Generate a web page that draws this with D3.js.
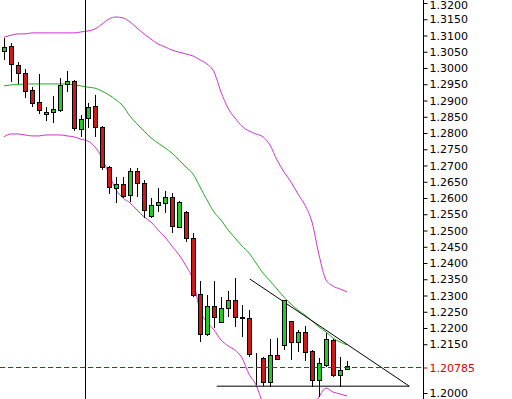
<!DOCTYPE html>
<html>
<head>
<meta charset="utf-8">
<script src="https://cdn.jsdelivr.net/npm/d3@7/dist/d3.min.js"></script>
<style>
  body { margin: 0; background: #fff; }
  .axis text { font-family: 'DejaVu Sans', sans-serif; font-size: 11px; fill: #000; }
  .axis line { stroke: #000; }
  .axis-last text { fill: #dd0000; }
  .axis-last line { stroke: #dd0000; }
</style>
</head>
<body>
<div id="chart"></div>
<script>
// OHLC per bar
const opens = [1.3052, 1.3068, 1.3009, 1.2985, 1.2932, 1.2895, 1.2858, 1.2865, 1.2871, 1.2951,
  1.2960, 1.2812, 1.2846, 1.2883, 1.2818, 1.2695, 1.2631, 1.2643, 1.2609, 1.2683,
  1.2646, 1.2545, 1.2578, 1.2585, 1.2603, 1.2511, 1.2557, 1.2477, 1.2305, 1.2181,
  1.2268, 1.2218, 1.2261, 1.2286, 1.2234, 1.2231, 1.2110, 1.2108, 1.2034, 1.2117,
  1.2148, 1.2222, 1.2157, 1.2188, 1.2129, 1.2040, 1.2086, 1.2163, 1.2055, 1.2074];
const highs = [1.3092, 1.3077, 1.3018, 1.2997, 1.2941, 1.2982, 1.2880, 1.2914, 1.2969, 1.2991,
  1.2963, 1.2855, 1.2892, 1.2917, 1.2821, 1.2698, 1.2665, 1.2665, 1.2692, 1.2692,
  1.2655, 1.2600, 1.2631, 1.2622, 1.2615, 1.2591, 1.2560, 1.2492, 1.2345, 1.2301,
  1.2345, 1.2295, 1.2314, 1.2354, 1.2271, 1.2255, 1.2123, 1.2111, 1.2166, 1.2169,
  1.2286, 1.2222, 1.2194, 1.2206, 1.2132, 1.2108, 1.2185, 1.2166, 1.2111, 1.2098];
const lows = [1.3025, 1.2957, 1.2951, 1.2908, 1.2880, 1.2858, 1.2837, 1.2831, 1.2865, 1.2926,
  1.2806, 1.2788, 1.2815, 1.2788, 1.2686, 1.2612, 1.2585, 1.2600, 1.2588, 1.2603,
  1.2538, 1.2538, 1.2557, 1.2554, 1.2492, 1.2508, 1.2465, 1.2295, 1.2157, 1.2175,
  1.2200, 1.2215, 1.2234, 1.2203, 1.2172, 1.2111, 1.2025, 1.2022, 1.2018, 1.2102,
  1.2132, 1.2102, 1.2126, 1.2098, 1.2018, 1.1988, 1.2080, 1.2049, 1.2018, 1.2071];
const closes = [1.3065, 1.3012, 1.2985, 1.2929, 1.2892, 1.2871, 1.2865, 1.2874, 1.2948, 1.2960,
  1.2815, 1.2843, 1.2880, 1.2818, 1.2695, 1.2634, 1.2643, 1.2606, 1.2683, 1.2646,
  1.2563, 1.2578, 1.2588, 1.2603, 1.2514, 1.2588, 1.2477, 1.2301, 1.2181, 1.2268,
  1.2234, 1.2261, 1.2286, 1.2234, 1.2231, 1.2120, 1.2110, 1.2034, 1.2117, 1.2105,
  1.2286, 1.2157, 1.2188, 1.2126, 1.2040, 1.2092, 1.2166, 1.2055, 1.2071, 1.2083];

// Bollinger bands (20)
const midBand = [1.2945, 1.2948, 1.2949, 1.2951, 1.2951, 1.2951, 1.2951, 1.2951, 1.2951, 1.2951,
  1.2948, 1.2945, 1.2941, 1.2938, 1.2929, 1.2917, 1.2902, 1.2883, 1.2852, 1.2828,
  1.2806, 1.2785, 1.2769, 1.2754, 1.2738, 1.2717, 1.2695, 1.2674, 1.2634, 1.2594,
  1.2557, 1.2532, 1.2502, 1.2477, 1.2452, 1.2431, 1.2400, 1.2369, 1.2345, 1.2320,
  1.2295, 1.2274, 1.2255, 1.2240, 1.2222, 1.2203, 1.2188, 1.2169, 1.2157, 1.2148];
const upperBand = [1.3095, 1.3101, 1.3105, 1.3105, 1.3108, 1.3108, 1.3108, 1.3108, 1.3108, 1.3108,
  1.3108, 1.3111, 1.3114, 1.3120, 1.3135, 1.3151, 1.3157, 1.3154, 1.3142, 1.3123,
  1.3105, 1.3089, 1.3074, 1.3065, 1.3055, 1.3049, 1.3043, 1.3037, 1.3025, 1.3012,
  1.2988, 1.2926, 1.2877, 1.2846, 1.2821, 1.2806, 1.2797, 1.2788, 1.2763, 1.2717,
  1.2680, 1.2649, 1.2612, 1.2578, 1.2526, 1.2425, 1.2348, 1.2329, 1.2320, 1.2311];
const lowerBand = [1.2788, 1.2797, 1.2797, 1.2794, 1.2791, 1.2791, 1.2794, 1.2794, 1.2794, 1.2791,
  1.2788, 1.2781, 1.2775, 1.2757, 1.2723, 1.2674, 1.2625, 1.2600, 1.2585, 1.2563,
  1.2542, 1.2526, 1.2502, 1.2480, 1.2452, 1.2425, 1.2391, 1.2348, 1.2255, 1.2218,
  1.2194, 1.2163, 1.2145, 1.2132, 1.2108, 1.2058, 1.2025, 1.1969, 1.1942, 1.1917,
  1.1902, 1.1895, 1.1898, 1.1917, 1.1948, 1.1988, 1.2015, 1.2003, 1.1997, 1.1991];

// labelled prices on the right scale (1.2050 and 1.2100 hidden by the last price tag)
const priceTicks = [1.2000, 1.2150, 1.2200, 1.2250, 1.2300, 1.2350, 1.2400, 1.2450, 1.2500,
  1.2550, 1.2600, 1.2650, 1.2700, 1.2750, 1.2800, 1.2850, 1.2900, 1.2950, 1.3000,
  1.3050, 1.3100, 1.3150, 1.3200];
const lastPrice = 1.20785;
const markerBar = 11.57;
// triangle drawn on the chart (bar index, price)
const trendLine = [[35.1, 1.2351], [57.9, 1.2021]];
const supportLine = [[30.4, 1.2021], [57.9, 1.2021]];

const width = 512, height = 399, axisX = 423;

const svg = d3.select('#chart').append('svg')
  .attr('width', width)
  .attr('height', height)
  .style('display', 'block');

const x = d3.scaleLinear().domain([0, 49]).range([4, 347]);
const y = d3.scaleLinear().domain([1.2, 1.32]).range([393, 3]);

svg.append('clipPath').attr('id', 'plot')
  .append('rect').attr('width', axisX).attr('height', height);

const plot = svg.append('g').attr('clip-path', 'url(#plot)');

const bars = d3.range(opens.length).map(i => ({
  i, o: opens[i], h: highs[i], l: lows[i], c: closes[i]
}));

// bands
const bandLine = d3.line().x((d, i) => x(i)).y(d => y(d)).curve(d3.curveMonotoneX);
[upperBand, lowerBand].forEach(band => {
  plot.append('path').attr('d', bandLine(band))
    .attr('fill', 'none').attr('stroke', '#cc33cc').attr('stroke-width', 1);
});
plot.append('path').attr('d', bandLine(midBand))
  .attr('fill', 'none').attr('stroke', '#22aa22').attr('stroke-width', 1);

// vertical marker
plot.append('line')
  .attr('x1', Math.round(x(markerBar)) + 0.5).attr('x2', Math.round(x(markerBar)) + 0.5)
  .attr('y1', 0).attr('y2', height)
  .attr('stroke', '#000');

// triangle
const seg = d3.line().x(d => x(d[0])).y(d => y(d[1]));
[trendLine, supportLine].forEach(l => {
  plot.append('path').attr('d', seg(l)).attr('fill', 'none').attr('stroke', '#000');
});

// candles
const candle = plot.selectAll('.candle').data(bars).enter()
  .append('g').attr('class', 'candle')
  .attr('shape-rendering', 'crispEdges');

candle.append('line')
  .attr('x1', d => Math.round(x(d.i)) + 0.5)
  .attr('x2', d => Math.round(x(d.i)) + 0.5)
  .attr('y1', d => Math.round(y(d.h)))
  .attr('y2', d => Math.round(y(d.l)))
  .attr('stroke', '#000');

candle.append('rect')
  .attr('x', d => Math.round(x(d.i)) - 1.5)
  .attr('y', d => Math.round(y(Math.max(d.o, d.c))) + 0.5)
  .attr('width', 4)
  .attr('height', d => Math.max(0, Math.round(y(Math.min(d.o, d.c))) - Math.round(y(Math.max(d.o, d.c)))))
  .attr('fill', d => d.c >= d.o ? '#22cc22' : '#cc1a1a')
  .attr('stroke', '#000');

// last price dashed line
plot.append('line')
  .attr('x1', 0).attr('x2', axisX)
  .attr('y1', Math.round(y(lastPrice)) + 0.5).attr('y2', Math.round(y(lastPrice)) + 0.5)
  .attr('stroke', '#dd0000').attr('stroke-dasharray', '5,3')
  .attr('shape-rendering', 'crispEdges');

// price axis
svg.append('line')
  .attr('x1', axisX + 0.5).attr('x2', axisX + 0.5)
  .attr('y1', 0).attr('y2', height)
  .attr('stroke', '#000');

const axis = svg.append('g').attr('class', 'axis')
  .attr('transform', `translate(${axisX + 0.5},0)`)
  .call(d3.axisRight(y).tickValues(priceTicks).tickFormat(d3.format('.4f'))
    .tickSize(4).tickSizeOuter(0).tickPadding(2));
axis.select('.domain').remove();
// keep the top label inside the picture
axis.selectAll('.tick text').filter(d => d === 1.32).attr('dy', '0.5em');

const lastAxis = svg.append('g').attr('class', 'axis axis-last')
  .attr('transform', `translate(${axisX + 0.5},0)`)
  .call(d3.axisRight(y).tickValues([lastPrice]).tickFormat(d3.format('.5f'))
    .tickSize(4).tickSizeOuter(0).tickPadding(2));
lastAxis.select('.domain').remove();
</script>
</body>
</html>
